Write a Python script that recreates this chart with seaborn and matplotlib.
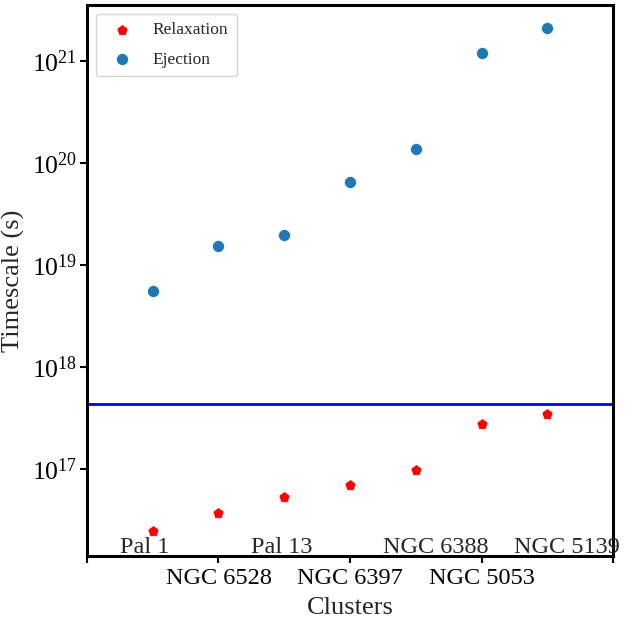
import numpy as np
import pandas as pd
import seaborn as sns
import matplotlib.pyplot as plt
from matplotlib.ticker import NullLocator, FixedLocator

clusters = ["Pal 1", "NGC 6528", "Pal 13", "NGC 6397", "NGC 6388", "NGC 5053", "NGC 5139"]
relaxation = [2.5e16, 3.7e16, 5.3e16, 7.0e16, 9.8e16, 2.75e17, 3.45e17]
ejection = [5.6e18, 1.53e19, 1.97e19, 6.5e19, 1.37e20, 1.2e21, 2.1e21]
threshold = 4.4e17

sns.set_theme(style="white")
plt.rcParams["font.family"] = ["Liberation Serif", "DejaVu Serif"]
plt.rcParams["mathtext.fontset"] = "stix"

idx = np.arange(len(clusters))
df = pd.DataFrame({"pos": idx, "Relaxation": relaxation, "Ejection": ejection})

fig = plt.figure(figsize=(6.25, 6.22), dpi=100)
ax = fig.add_axes([0.139, 0.106, 0.842, 0.886])

sns.scatterplot(data=df, x="pos", y="Relaxation", marker="p", color="red",
                s=72, edgecolor="white", linewidth=0.5, label="Relaxation", ax=ax)
sns.scatterplot(data=df, x="pos", y="Ejection", marker="o", color="#1f77b4",
                s=75, edgecolor="white", linewidth=0.5, label="Ejection", ax=ax)
ax.axhline(threshold, color="blue", lw=2)

ax.set_yscale("log")
ax.set_ylim(10**16.15, 10**21.55)
ax.set_xlim(-1, 7)
ax.yaxis.set_minor_locator(NullLocator())

ax.xaxis.set_major_locator(FixedLocator([-1, 1, 3, 5, 7]))
ax.set_xticklabels(["", clusters[1], clusters[3], clusters[5], ""])
for i in [0, 2, 4, 6]:
    ax.annotate(clusters[i], xy=(i - 0.5, 0), xycoords=("data", "axes fraction"),
                xytext=(0, 2.5), textcoords="offset points", ha="left",
                va="baseline", fontsize=17.5, annotation_clip=False)

ax.tick_params(axis="x", which="major", labelsize=17.5, length=5, width=1.5,
               direction="out", bottom=True, colors="black")
ax.tick_params(axis="y", which="major", labelsize=18.5, length=5, width=1.5,
               direction="out", left=True, colors="black", pad=2)
ax.set_xlabel("Clusters", fontsize=19, labelpad=6)
ax.set_ylabel("Timescale (s)", fontsize=19)
ax.yaxis.set_label_coords(-0.118, 0.5)

for sp in ax.spines.values():
    sp.set_color("black")
    sp.set_linewidth(2.2)

ax.legend(loc="upper left", fontsize=12.5, frameon=True, labelspacing=0.75,
          markerscale=1.0, borderpad=0.5)

fig.savefig("out.png", dpi=100)
